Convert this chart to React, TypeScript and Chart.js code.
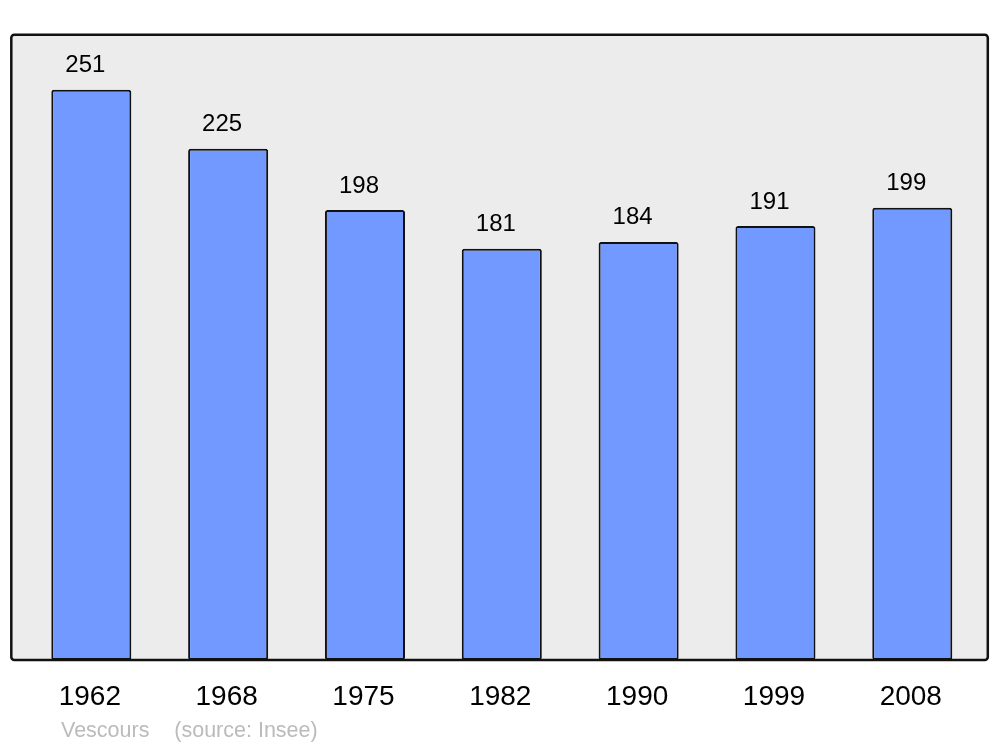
import React, { useEffect, useRef } from "react";
import { Chart, registerables } from "chart.js";

Chart.register(...registerables);

const years = ["1962", "1968", "1975", "1982", "1990", "1999", "2008"];
const population = [251, 225, 198, 181, 184, 191, 199];
const commune = "Vescours";
const source = "(source: Insee)";

const FONT = "'Liberation Sans', Arial, sans-serif";

const framePlugin = {
  id: "frame",
  beforeDatasetsDraw(chart: any) {
    const ctx = chart.ctx;
    ctx.save();
    ctx.beginPath();
    ctx.roundRect(11.3, 34.7, 976.5, 625.3, 3);
    ctx.fillStyle = "#ececec";
    ctx.fill();
    ctx.restore();
  },
  afterDatasetsDraw(chart: any) {
    const ctx = chart.ctx;
    const xs = chart.scales.x;
    const ys = chart.scales.y;
    ctx.save();
    ctx.beginPath();
    ctx.roundRect(11.3, 34.7, 976.5, 625.3, 3);
    ctx.lineWidth = 2.5;
    ctx.strokeStyle = "#111";
    ctx.stroke();

    ctx.fillStyle = "#000";
    ctx.textAlign = "center";
    ctx.textBaseline = "alphabetic";
    ctx.font = `24px ${FONT}`;
    population.forEach((v, i) => {
      const x = xs.getPixelForValue(i) - 6;
      const y = ys.getPixelForValue(v) - 17.5;
      ctx.fillText(String(v), x, y);
    });

    ctx.font = `28px ${FONT}`;
    years.forEach((t, i) => {
      const x = xs.getPixelForValue(i) - 1.5;
      ctx.fillText(t, x, 705);
    });

    ctx.textAlign = "left";
    ctx.fillStyle = "#bbbbbb";
    ctx.font = `21.5px ${FONT}`;
    ctx.fillText(commune, 61, 737);
    ctx.fillText(source, 174.3, 737);
    ctx.restore();
  },
};

export default function App() {
  const ref = useRef<HTMLCanvasElement>(null);
  useEffect(() => {
    document.body.style.margin = "0";
    const canvas = ref.current!;
    const chart = new Chart(canvas, {
      type: "bar",
      data: {
        labels: years,
        datasets: [
          {
            data: population,
            backgroundColor: "#7299ff",
            borderColor: "#111",
            borderWidth: 2,
            borderRadius: 2.5,
            borderSkipped: false,
            categoryPercentage: 1,
            barPercentage: 0.585,
          },
        ],
      },
      options: {
        animation: false,
        responsive: false,
        devicePixelRatio: 1,
        layout: { padding: { left: 22.9, right: 19.3, top: 34, bottom: 87 } },
        plugins: { legend: { display: false }, tooltip: { enabled: false } },
        scales: {
          x: { display: false },
          y: { display: false, min: 0, max: 275.5 },
        },
      },
      plugins: [framePlugin],
    });
    return () => chart.destroy();
  }, []);
  return <canvas ref={ref} width={1000} height={747} style={{ display: "block" }} />;
}
